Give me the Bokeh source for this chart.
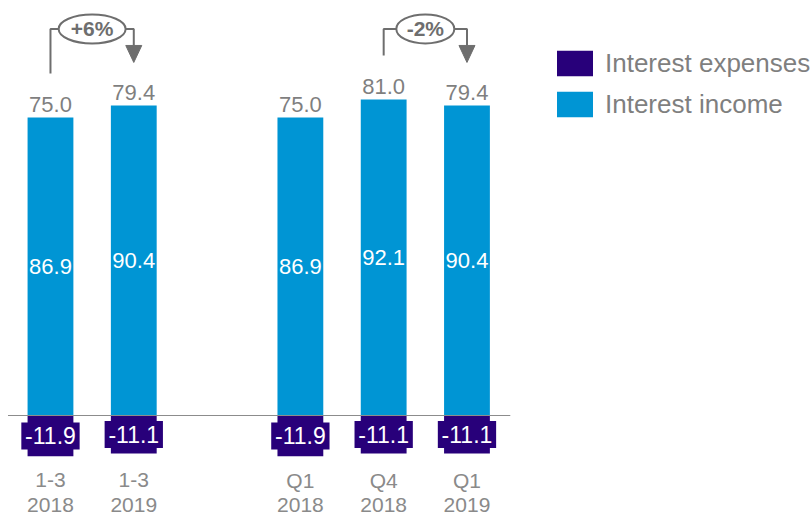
from bokeh.plotting import figure
from bokeh.models import Range1d, Legend, LegendItem
from bokeh.core.properties import value
from bokeh.embed import file_html
from bokeh.resources import INLINE

# ---- data ----
cat_top = ["1-3", "1-3", "Q1", "Q4", "Q1"]
cat_bottom = ["2018", "2019", "2018", "2018", "2019"]
positions = [0, 1, 3, 4, 5]
income = [86.9, 90.4, 86.9, 92.1, 90.4]
expenses = [-11.9, -11.1, -11.9, -11.1, -11.1]
totals = [75.0, 79.4, 75.0, 81.0, 79.4]
change_labels = ["+6%", "-2%"]
change_from = [0, 3]
change_to = [1, 4]

# ---- style ----
BLUE = "#0095d4"
PURPLE = "#28007a"
GREY = "#7f7f7f"
DARK = "#6e6e6e"
FONT = value("Liberation Sans")
PXY = 1 / 3.43      # data units per screen pixel (y)
PXX = 1 / 83.3      # data units per screen pixel (x)
bubble_w = [67, 58]

p = figure(width=812, height=518, x_range=Range1d(-0.6, 9.148), y_range=Range1d(-30.03, 121.0),
           output_backend="svg", toolbar_location=None, min_border=0,
           x_axis_location=None, y_axis_location=None)
p.grid.visible = False
p.outline_line_color = None

r_inc = p.vbar(x=positions, top=income, bottom=0, width=0.55, fill_color=BLUE, line_color=None)
r_exp = p.vbar(x=positions, top=0, bottom=expenses, width=0.55, fill_color=PURPLE, line_color=None)
p.rect(x=positions, y=[e / 2 for e in expenses], width=0.70, height=27, height_units="screen",
       fill_color=PURPLE, line_color=None)

# baseline
p.segment(x0=[min(positions) - 0.51], x1=[max(positions) + 0.52], y0=[0], y1=[0],
          line_color="#8c8c8c", line_width=1)

# value labels
p.text(x=positions, y=income, text=[f"{t:.1f}" for t in totals], y_offset=-13,
       text_align="center", text_baseline="alphabetic", text_font=FONT,
       text_font_size="22px", text_color=GREY)
p.text(x=positions, y=[v / 2 for v in income], text=[f"{v:.1f}" for v in income],
       text_align="center", text_baseline="middle", text_font=FONT,
       text_font_size="22px", text_color="white")
p.text(x=positions, y=[e / 2 for e in expenses], text=[f"{e:.1f}" for e in expenses],
       text_align="center", text_baseline="middle", text_font=FONT,
       text_font_size="23px", text_color="white")

# category labels
p.text(x=positions, y=[-18.95] * len(positions), text=cat_top, text_align="center",
       text_baseline="middle", text_font=FONT, text_font_size="21px", text_color="#8a8a8a")
p.text(x=positions, y=[-25.95] * len(positions), text=cat_bottom, text_align="center",
       text_baseline="middle", text_font=FONT, text_font_size="21px", text_color="#8a8a8a")

# change arrows
y_top = 112.7
for lab, i, j, bw in zip(change_labels, change_from, change_to, bubble_w):
    xi, xj = positions[i], positions[j]
    y_start = income[i] + 44 * PXY
    head_base = income[j] + 60 * PXY
    tip = income[j] + 43 * PXY
    p.line([xi, xi, xj, xj], [y_start, y_top, y_top, head_base], line_color=DARK, line_width=2)
    p.patch([xj - 8 * PXX, xj + 8 * PXX, xj], [head_base, head_base, tip],
            fill_color=DARK, line_color=DARK)
    cx = (xi + xj) / 2
    p.ellipse(x=[cx], y=[y_top], width=bw, height=29, width_units="screen", height_units="screen",
              fill_color="white", line_color=DARK, line_width=2)
    p.text(x=[cx], y=[y_top], text=[lab], text_align="center", text_baseline="middle",
           text_font=FONT, text_font_size="21px", text_font_style="bold", text_color=DARK)

legend = Legend(items=[LegendItem(label="Interest expenses", renderers=[r_exp]),
                       LegendItem(label="Interest income", renderers=[r_inc])],
                location=(552, 398), glyph_width=45, glyph_height=32,
                label_text_font_size="26px", label_text_color=GREY,
                label_text_font="Liberation Sans", border_line_color=None,
                background_fill_alpha=0, padding=0, margin=0, spacing=9, label_standoff=8)
p.add_layout(legend)

open("out.html", "w").write(file_html(p, INLINE))
